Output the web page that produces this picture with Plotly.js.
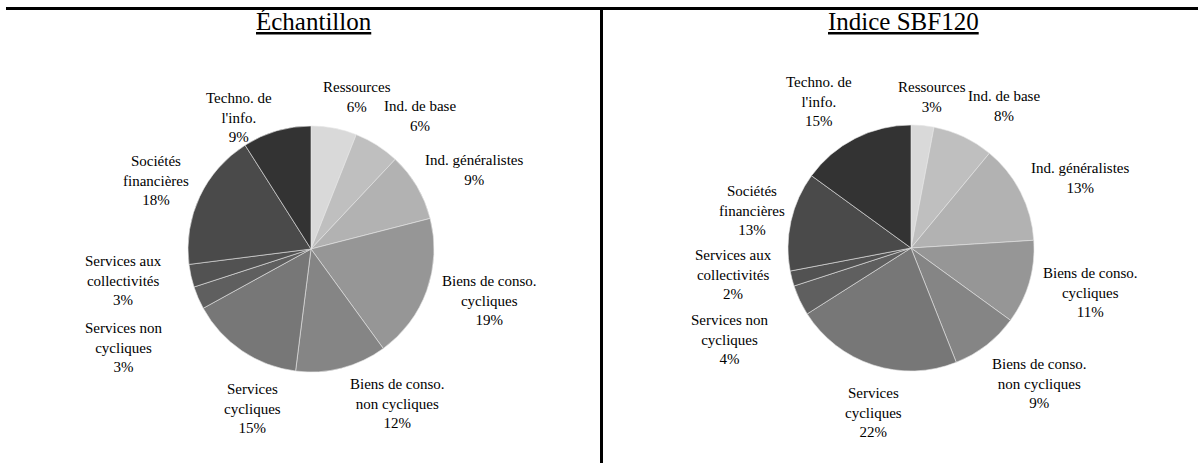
<!DOCTYPE html>
<html>
<head>
<meta charset="utf-8">
<script src="https://cdn.plot.ly/plotly-3.0.1.min.js"></script>
<style>
  html, body { margin: 0; padding: 0; background: #ffffff; }
  #chart { width: 1198px; height: 463px; }
</style>
</head>
<body>
<div id="chart"></div>
<script>
// Sector names (line breaks as drawn in the labels)
const sectors = [
  "Ressources",
  "Ind. de base",
  "Ind. généralistes",
  "Biens de conso.<br>cycliques",
  "Biens de conso.<br>non cycliques",
  "Services<br>cycliques",
  "Services non<br>cycliques",
  "Services aux<br>collectivités",
  "Sociétés<br>financières",
  "Techno. de<br>l'info."
];

// Sector weights, in percent
const echantillon = [6, 6, 9, 19, 12, 15, 3, 3, 18, 9];
const sbf120      = [3, 8, 13, 11, 9, 22, 4, 2, 13, 15];

const panelTitles = ["Échantillon", "Indice SBF120"];

// Grey shades, one per sector
const greys = ["#d9d9d9", "#bfbfbf", "#b2b2b2", "#969696", "#858585",
               "#777777", "#5f5f5f", "#525252", "#4a4a4a", "#333333"];

const W = 1198, H = 463;
const px = x => x / W;
const py = y => 1 - y / H;

// Pie centres and radius in pixels
const R = 123;
const pies = [
  { cx: 311, cy: 249, values: echantillon },
  { cx: 911, cy: 248, values: sbf120 }
];

// Label block centres, in pixels, per sector
const labelPos = [
  [[357, 97], [420, 116], [474, 170], [490, 300], [397, 403],
   [252, 408], [124, 347], [123, 280], [156, 181], [239, 118]],
  [[932, 97], [1004, 106], [1080, 178], [1090, 292], [1039, 383],
   [873, 412], [730, 339], [733, 274], [752, 210], [819, 101]]
];

const serifFamily = "Liberation Serif";

const traces = pies.map(p => ({
  type: "pie",
  labels: sectors,
  values: p.values,
  sort: false,
  direction: "clockwise",
  rotation: 0,
  textinfo: "none",
  hoverinfo: "skip",
  marker: { colors: greys, line: { color: "#e6e6e6", width: 0.6 } },
  domain: {
    x: [px(p.cx - R), px(p.cx + R)],
    y: [py(p.cy + R), py(p.cy - R)]
  },
  showlegend: false
}));

const annotations = [];
pies.forEach((p, k) => {
  const total = p.values.reduce((a, b) => a + b, 0);
  p.values.forEach((v, i) => {
    const pct = Math.round(v / total * 100);
    annotations.push({
      xref: "paper", yref: "paper",
      x: px(labelPos[k][i][0]), y: py(labelPos[k][i][1]),
      xanchor: "center", yanchor: "middle",
      text: sectors[i] + "<br>" + pct + "%",
      showarrow: false,
      align: "center",
      font: { family: serifFamily, size: 15, color: "#000000" }
    });
  });
});

// Panel titles, underlined
[[314, 21], [903, 21]].forEach((c, k) => {
  annotations.push({
    xref: "paper", yref: "paper",
    x: px(c[0]), y: py(c[1]),
    xanchor: "center", yanchor: "middle",
    text: "<u>" + panelTitles[k] + "</u>",
    showarrow: false,
    font: { family: serifFamily, size: 25, color: "#000000" }
  });
});

// Frame: rule across the top and divider between the two panels
const shapes = [
  { type: "line", xref: "paper", yref: "paper",
    x0: px(6), x1: 1, y0: py(8.5), y1: py(8.5),
    line: { color: "#000000", width: 3 } },
  { type: "line", xref: "paper", yref: "paper",
    x0: px(601.5), x1: px(601.5), y0: py(7), y1: 0,
    line: { color: "#000000", width: 3 } }
];

const layout = {
  width: W, height: H,
  margin: { l: 0, r: 0, t: 0, b: 0 },
  font: { family: serifFamily, color: "#000000" },
  paper_bgcolor: "#ffffff",
  plot_bgcolor: "#ffffff",
  showlegend: false,
  annotations: annotations,
  shapes: shapes
};

Plotly.newPlot("chart", traces, layout, { staticPlot: true, displayModeBar: false });
</script>
</body>
</html>
